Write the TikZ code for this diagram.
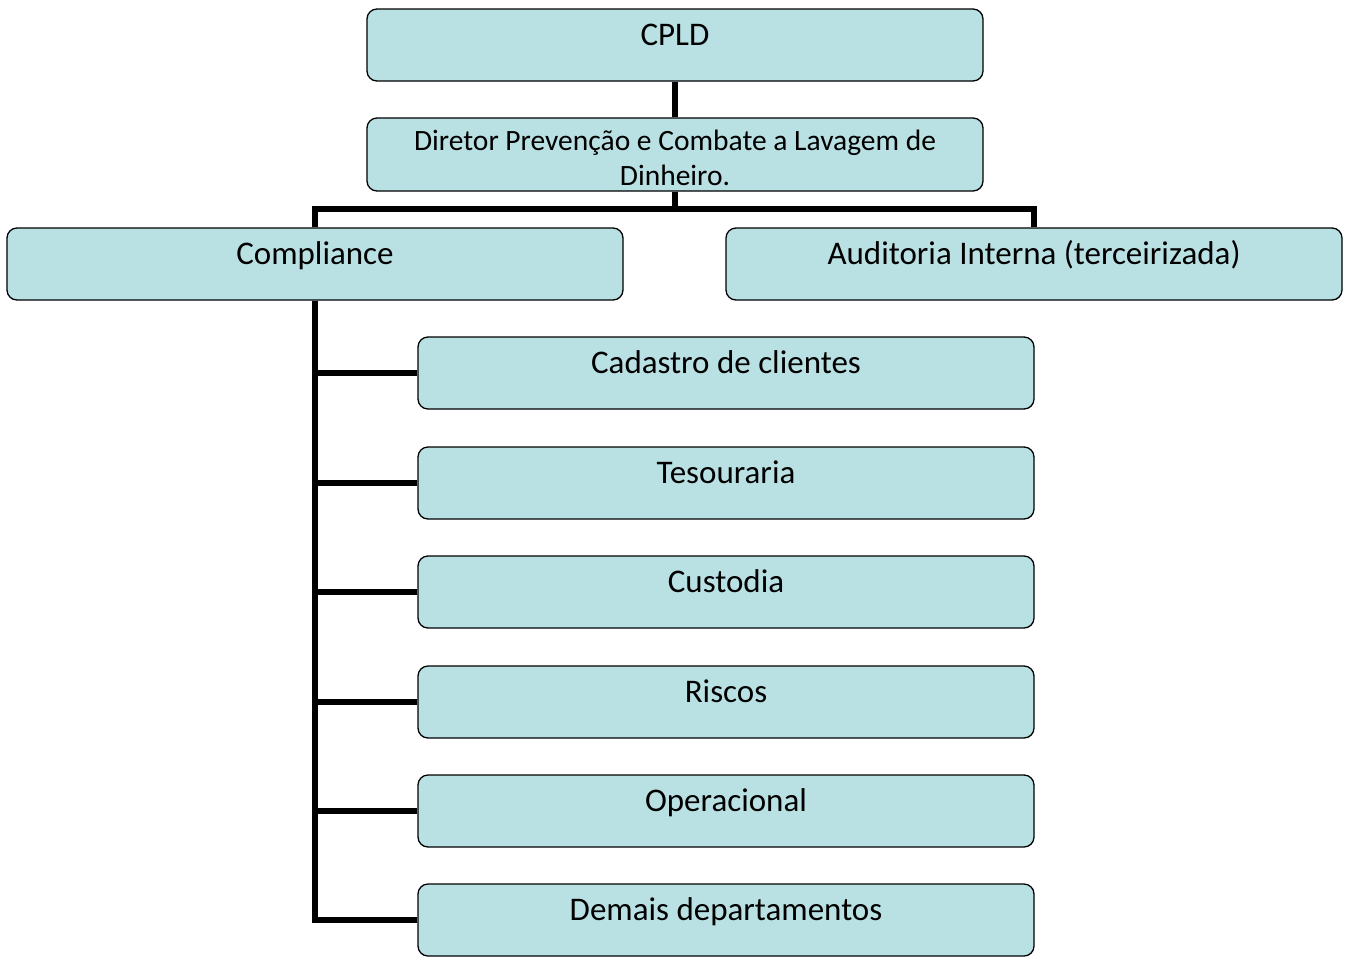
\documentclass[tikz,border=0pt]{standalone}
\usepackage{fontspec}
\setmainfont{Carlito}
\usepackage{tikz}
\definecolor{boxfill}{RGB}{185,224,227}

\tikzset{
  orgbox/.style={draw=black, fill=boxfill, line width=1.3pt, rounded corners=10pt,
    minimum width=616pt, minimum height=72pt, inner sep=0pt,
    font=\fontsize{33}{40}\selectfont, text height=36pt, text depth=36pt},
  link/.style={line width=5.5pt}
}

\begin{document}
\begin{tikzpicture}[x=1pt, y=-1pt]
  \useasboundingbox (0,0) rectangle (1351,956);

  \node[orgbox] (cpld) at (675,45) {CPLD};
  \node[orgbox, minimum height=73pt, align=center,
        font=\fontsize{29.5}{35.5}\selectfont, text height=67.5pt, text depth=5.5pt]
        (dir) at (675,154.5) {Diretor Prevenção e Combate a Lavagem de\\Dinheiro.};

  \node[orgbox] (comp) at (315,264)  {Compliance};
  \node[orgbox] (aud)  at (1034,264) {Auditoria Interna (terceirizada)};

  \node[orgbox] (cad) at (726,373) {Cadastro de clientes};
  \node[orgbox] (tes) at (726,483) {Tesouraria};
  \node[orgbox] (cus) at (726,592) {Custodia};
  \node[orgbox] (ris) at (726,702) {Riscos};
  \node[orgbox] (ope) at (726,811) {Operacional};
  \node[orgbox] (dem) at (726,920) {Demais departamentos};

  % top of the chart
  \coordinate (bus) at (675,209);
  \draw[link] (cpld) -- (dir);
  \draw[link] (dir) -- (bus);
  \draw[link] (comp.north) |- (bus) -| (aud.north);

  % departments under compliance
  \draw[link] (comp.south) |- (dem.west);
  \draw[link] (comp.south |- cad.west) -- (cad.west);
  \draw[link] (comp.south |- tes.west) -- (tes.west);
  \draw[link] (comp.south |- cus.west) -- (cus.west);
  \draw[link] (comp.south |- ris.west) -- (ris.west);
  \draw[link] (comp.south |- ope.west) -- (ope.west);
\end{tikzpicture}
\end{document}
